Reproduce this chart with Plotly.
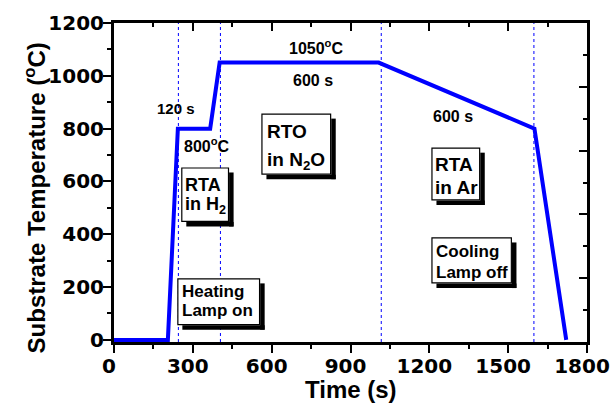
import plotly.graph_objects as go

# ---------------- data ----------------
time_s = [0, 205, 243, 366, 402, 1007, 1600, 1721]
temp_c = [0, 0, 800, 800, 1050, 1050, 800, 0]

# stage boundaries (dotted lines)
boundaries = [245, 405, 1017, 1598]

x_ticks = [0, 300, 600, 900, 1200, 1500, 1800]
y_ticks = [0, 200, 400, 600, 800, 1000, 1200]

# plain labels: anchor (x, y) is the bottom-centre of the text
label_x = [237, 355, 770, 756, 1290]
label_y = [836, 691, 1062, 943, 805]
label_text = ["120 s", "800<sup>o</sup>C", "1050<sup>o</sup>C", "600 s", "600 s"]

# boxed labels: anchor (x, y) is the top-left corner of the box
box_x = [258, 563, 1210, 243, 1210]
box_y = [651, 855, 726, 231, 386]
box_line1 = ["RTA", "RTO", "RTA", "Heating", "Cooling"]
box_line2 = ["in H<sub>2</sub>", "in N<sub>2</sub>O", "in Ar", "Lamp on", "Lamp off"]

x_title = "Time (s)"
y_title = "Substrate Temperature (<sup>o</sup>C)"

# ---------------- styles ----------------
ARIAL = "Liberation Sans, Arial, sans-serif"
DEJAVU = "DejaVu Sans, sans-serif"
label_size = [15, 16, 16, 16, 16]
box_w = [46.7, 68.7, 47.7, 81.7, 79.4]
box_h = [53.4, 60, 51.7, 45.7, 45.0]
box_font = [18, 19, 19, 17, 17]
box_dx = [2, 3.7, 2, 3.4, 2.7]
box_cap1 = [9, 9, 8.4, 5.7, 6.7]
box_cap2 = [28, 37.4, 31, 24, 27.7]
SHADOW = 4.5

W, H = 611, 405
ML, MR, MT, MB = 114, 24, 23, 63
PX_X = (W - ML - MR) / 1800.0          # pixels per second
PX_Y = (H - MT - MB) / 1208.0          # pixels per degree

fig = go.Figure()
fig.add_trace(go.Scatter(x=time_s, y=temp_c, mode="lines",
                         line=dict(color="#0000FF", width=4),
                         showlegend=False, hoverinfo="skip"))
# helper trace for the mirrored (top/right) axes
fig.add_trace(go.Scatter(x=[None], y=[None], xaxis="x2", yaxis="y2",
                         showlegend=False, hoverinfo="skip"))

for bx in boundaries:
    fig.add_shape(type="line", x0=bx, x1=bx, xref="x", y0=0, y1=1, yref="paper",
                  line=dict(color="#0000FF", width=1, dash="dot"), layer="below")

annotations = []
for x, y, t, s in zip(label_x, label_y, label_text, label_size):
    annotations.append(dict(x=x, y=y, xref="x", yref="y", text=t, showarrow=False,
                            xanchor="center", yanchor="bottom",
                            font=dict(family=ARIAL, size=s, color="black", weight="bold")))

for i in range(len(box_x)):
    w, h = box_w[i], box_h[i]
    left, top = box_x[i], box_y[i]
    right = left + w / PX_X
    bottom = top - h / PX_Y
    half = SHADOW / 2.0
    # drop shadow: thick strokes along the right and bottom edges
    fig.add_shape(type="line", xref="x", yref="y",
                  x0=right + (half + 0.6) / PX_X, x1=right + (half + 0.6) / PX_X,
                  y0=top - SHADOW / PX_Y, y1=bottom - (SHADOW + 0.6) / PX_Y,
                  line=dict(color="#000000", width=SHADOW), layer="above")
    fig.add_shape(type="line", xref="x", yref="y",
                  x0=left + SHADOW / PX_X, x1=right + (SHADOW + 0.6) / PX_X,
                  y0=bottom - (half + 0.6) / PX_Y, y1=bottom - (half + 0.6) / PX_Y,
                  line=dict(color="#000000", width=SHADOW), layer="above")
    # box
    fig.add_shape(type="rect", xref="x", yref="y",
                  x0=left, x1=right, y0=bottom, y1=top,
                  fillcolor="#FFFFFF", line=dict(color="#000000", width=1.2), layer="above")
    s = box_font[i]
    for txt, cap in ((box_line1[i], box_cap1[i]), (box_line2[i], box_cap2[i])):
        annotations.append(dict(x=left, y=top, xref="x", yref="y", text=txt,
                                showarrow=False, xanchor="left", yanchor="top",
                                xshift=box_dx[i] - 1, yshift=-(cap - 1 - 0.19 * s),
                                font=dict(family=ARIAL, size=s, color="black", weight="bold")))

# axis titles as annotations for precise placement
annotations.append(dict(x=0, y=0.45, xref="paper", yref="paper", text=y_title, textangle=-90,
                        showarrow=False, xanchor="center", yanchor="middle", xshift=-79,
                        font=dict(family=ARIAL, size=24, color="black", weight="bold")))
annotations.append(dict(x=0.5, y=0, xref="paper", yref="paper", text=x_title,
                        showarrow=False, xanchor="center", yanchor="top", yshift=-32,
                        font=dict(family=ARIAL, size=24, color="black", weight="bold")))

tickfont = dict(family=DEJAVU, size=20, color="black", weight="bold")

fig.update_layout(
    width=W, height=H,
    margin=dict(l=ML, r=MR, t=MT, b=MB, autoexpand=False),
    paper_bgcolor="white", plot_bgcolor="white",
    annotations=annotations,
    xaxis=dict(range=[0, 1800], tickvals=x_ticks, ticktext=[str(v) for v in x_ticks],
               showline=True, linecolor="black", linewidth=3, mirror=True,
               ticks="outside", ticklen=8, tickwidth=2, tickcolor="black",
               minor=dict(ticks="outside", ticklen=4, tickwidth=2, tickcolor="black", dtick=150),
               showgrid=False, zeroline=False, tickfont=tickfont,
               ticklabeloverflow="allow", ticklabelshift=-5, ticklabelstandoff=-4,
               automargin=False),
    yaxis=dict(range=[-8, 1200], tickvals=y_ticks, ticktext=[str(v) for v in y_ticks],
               showline=True, linecolor="black", linewidth=3, mirror=True,
               ticks="outside", ticklen=8, tickwidth=2, tickcolor="black",
               minor=dict(ticks="outside", ticklen=4, tickwidth=2, tickcolor="black", dtick=100),
               showgrid=False, zeroline=False, tickfont=tickfont,
               ticklabeloverflow="allow", ticklabelstandoff=-5, automargin=False),
    xaxis2=dict(overlaying="x", side="top", anchor="y2", range=[0, 1800], automargin=False,
                showline=False, showgrid=False, zeroline=False, showticklabels=False,
                ticks="inside", ticklen=8, tickwidth=2, tickcolor="black", dtick=300, tick0=0,
                minor=dict(ticks="inside", ticklen=4, tickwidth=2, tickcolor="black", dtick=150)),
    yaxis2=dict(overlaying="y", side="right", anchor="x2", range=[0, 5], automargin=False,
                showline=False, showgrid=False, zeroline=False, showticklabels=False,
                ticks="inside", ticklen=8, tickwidth=2, tickcolor="black", dtick=1, tick0=0,
                minor=dict(ticks="inside", ticklen=4, tickwidth=2, tickcolor="black", dtick=0.5)),
)

fig.write_html("out.html", config={"displayModeBar": False},
               post_script="document.body.style.margin='0';")
